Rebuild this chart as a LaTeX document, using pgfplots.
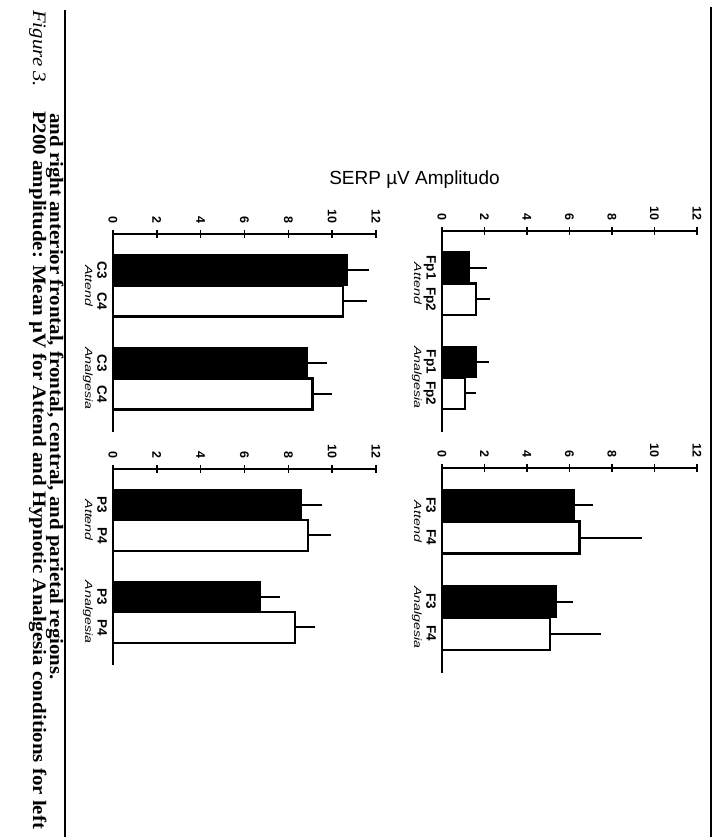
\documentclass[border=0pt]{standalone}
\usepackage{fontspec}
\setmainfont{Liberation Serif}
\setsansfont{Liberation Sans}
\usepackage{graphicx}
\usepackage{pgfplots}
\pgfplotsset{compat=1.18}

\pgfplotsset{
  panel/.style={
    scale only axis,
    xmin=0, xmax=12, ymin=-5.23, ymax=1.17,
    axis x line=top, axis y line=left,
    axis line style={-, line width=2pt},
    xtick={0,2,4,6,8,10,12},
    tick align=center,
    major tick length=8pt,
    xtick style={line width=1.6pt, black},
    ytick style={draw=none},
    ytick={0,-1,-3,-4},
    /pgf/number format/assume math mode=true,
    xticklabel style={font=\sffamily\bfseries\fontsize{12.5}{13}\selectfont, rotate=-90, anchor=east, inner xsep=6pt, inner ysep=0pt},
    yticklabel style={font=\sffamily\bfseries\fontsize{13.5}{14}\selectfont, rotate=-90, anchor=north, inner ysep=2pt, inner xsep=0pt},
    extra y ticks={-0.5,-3.5},
    extra y tick labels={\scalebox{1.35}[1]{Attend},\scalebox{1.35}[1]{Analgesia}},
    extra y tick style={yticklabel style={font=\sffamily\itshape\fontsize{10.5}{11}\selectfont, inner ysep=16pt}},
  },
  darkbar/.style={xbar, bar width=1, bar shift=0pt, fill=black, draw=black, line width=1.5pt,
    error bars/.cd, x dir=plus, x explicit, error mark=none, error bar style={line width=2pt, black}},
  whitebar/.style={xbar, bar width=1, bar shift=0pt, fill=white, draw=black, line width=2.2pt,
    error bars/.cd, x dir=plus, x explicit, error mark=none, error bar style={line width=2pt, black}},
}

\begin{document}
\begin{tikzpicture}[x=1pt, y=1pt]
\useasboundingbox (0,0) rectangle (714,837);

% rules
\draw[line width=2pt] (65,827) -- (65,0);
\draw[line width=2pt] (711,830) -- (711,0);

% caption
\node[rotate=-90, anchor=base west, inner sep=0pt, font=\fontsize{19}{19}\selectfont] at (33,827) {\scalebox{1.1}[1]{\textit{Figure 3.}}};
\node[rotate=-90, anchor=base west, inner sep=0pt, font=\bfseries\fontsize{19}{19}\selectfont] at (33,726) {\scalebox{1.1}[1]{P200 amplitude: Mean µV for Attend and Hypnotic Analgesia conditions for left}};
\node[rotate=-90, anchor=base west, inner sep=0pt, font=\bfseries\fontsize{19}{19}\selectfont] at (50,724) {\scalebox{1.1}[1]{and right anterior frontal, frontal, central, and parietal regions.}};

% title
\node[font=\sffamily\fontsize{19}{19}\selectfont, anchor=center] at (414.5,657) {SERP µV Amplitudo};

% upper left: C3 / C4
\begin{axis}[panel, at={(113pt,603pt)}, anchor=north west, width=263pt, height=198pt,
  yticklabels={C3,C4,C3,C4}]
\addplot[darkbar] coordinates {(10.7,0) +- (1.0,0) (8.85,-3) +- (0.9,0)};
\addplot[whitebar] coordinates {(10.5,-1) +- (1.1,0) (9.1,-4) +- (0.9,0)};
\end{axis}

% upper right: Fp1 / Fp2
\begin{axis}[panel, at={(442pt,606pt)}, anchor=north west, width=255pt, height=201pt,
  yticklabels={Fp1,Fp2,Fp1,Fp2}]
\addplot[darkbar] coordinates {(1.3,0) +- (0.8,0) (1.6,-3) +- (0.6,0)};
\addplot[whitebar] coordinates {(1.6,-1) +- (0.65,0) (1.07,-4) +- (0.55,0)};
\end{axis}

% lower left: P3 / P4
\begin{axis}[panel, at={(113pt,368pt)}, anchor=north west, width=263pt, height=196pt,
  yticklabels={P3,P4,P3,P4}]
\addplot[darkbar] coordinates {(8.58,0) +- (0.97,0) (6.71,-3) +- (0.9,0)};
\addplot[whitebar] coordinates {(8.9,-1) +- (1.05,0) (8.3,-4) +- (0.92,0)};
\end{axis}

% lower right: F3 / F4
\begin{axis}[panel, at={(442pt,369pt)}, anchor=north west, width=255pt, height=205pt,
  yticklabels={F3,F4,F3,F4}]
\addplot[darkbar] coordinates {(6.22,0) +- (0.9,0) (5.36,-3) +- (0.8,0)};
\addplot[whitebar] coordinates {(6.47,-1) +- (2.95,0) (5.1,-4) +- (2.4,0)};
\end{axis}
\end{tikzpicture}
\end{document}
